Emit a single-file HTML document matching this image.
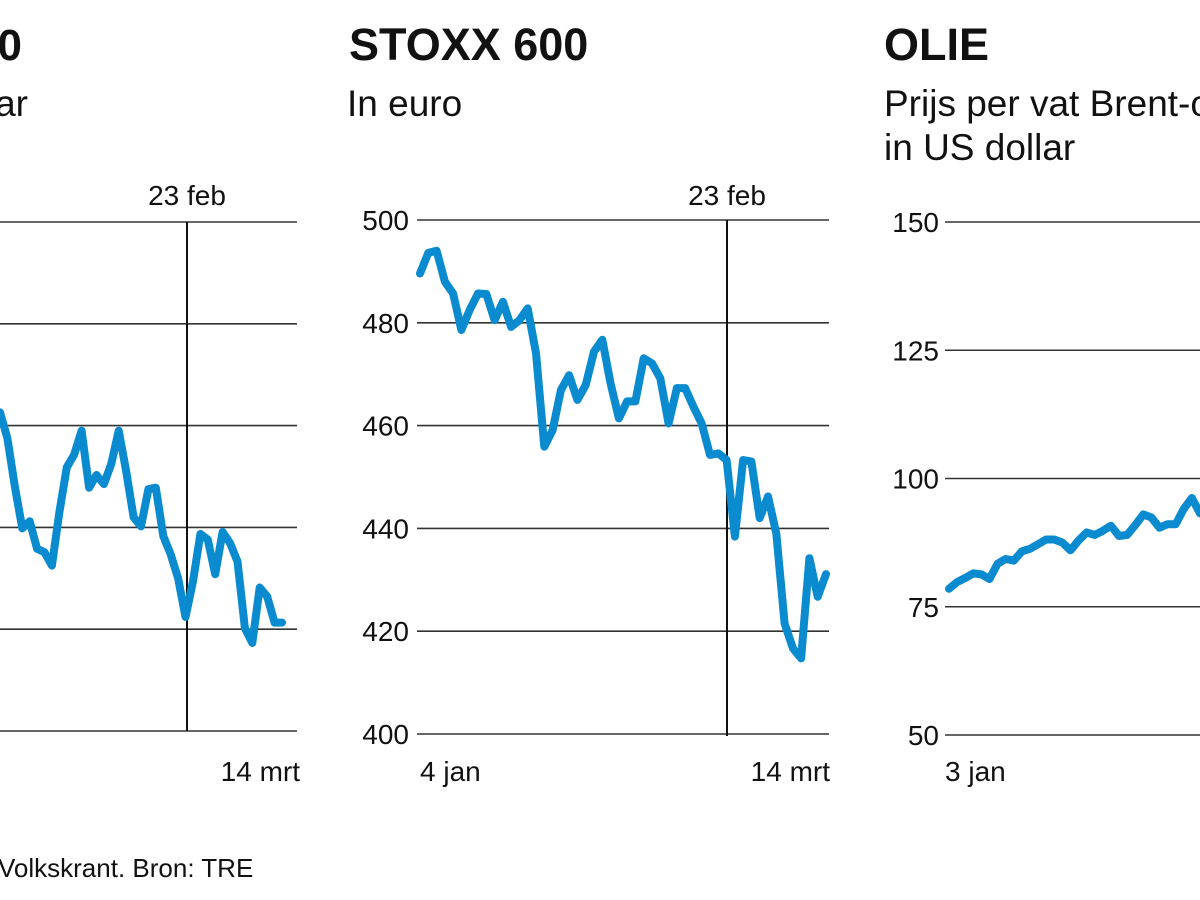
<!DOCTYPE html>
<html><head><meta charset="utf-8"><style>
html,body{margin:0;padding:0;background:#fff;width:1200px;height:900px;overflow:hidden}
svg{display:block;font-family:"Liberation Sans",sans-serif}
</style></head><body>
<svg id="chart" width="1200" height="900" viewBox="0 0 1200 900" xmlns="http://www.w3.org/2000/svg">
<text x="22" y="60" text-anchor="end" font-size="44" font-weight="bold" fill="#111">S&amp;P 500</text>
<text x="28" y="116" text-anchor="end" font-size="37" fill="#111">In US dollar</text>
<text x="349" y="60" font-size="45" font-weight="bold" fill="#111">STOXX 600</text>
<text x="347" y="116" font-size="37" fill="#111">In euro</text>
<text x="884" y="60" font-size="45" font-weight="bold" fill="#111">OLIE</text>
<text x="884" y="116" font-size="37" fill="#111">Prijs per vat Brent-olie</text>
<text x="884" y="160" font-size="37" fill="#111">in US dollar</text>
<text x="-2" y="877" font-size="26" fill="#111">Volkskrant. Bron: TRE</text>
<g id="plots"></g>
</svg>
<script>
// S&P 500 (visible part)
const spValues = [4626,4575,4481,4398,4412,4358,4351,4325,4430,4518,4543,4590,4478,4503,4485,4525,4590,4510,4420,4402,4475,4478,4383,4347,4300,4224,4293,4387,4376,4308,4391,4369,4333,4202,4173,4282,4264,4213,4213];
const spTicks = [5000,4800,4600,4400,4200,4000];
// STOXX 600
const stoxxValues = [489.6,493.6,494.0,488.0,485.7,478.6,482.5,485.7,485.6,480.5,484.1,479.2,480.5,482.8,474.1,455.9,459.1,466.9,469.8,465.0,467.9,474.4,476.7,468.2,461.4,464.7,464.7,473.1,472.1,469.2,460.4,467.3,467.3,463.7,460.4,454.3,454.6,453.3,438.4,453.3,453.0,442.0,446.2,439.0,421.5,416.7,414.7,434.2,426.7,431.1];
const stoxxTicks = [500,480,460,440,420,400];
// Oil (visible part)
const oilValues = [78.5,79.8,80.6,81.5,81.3,80.4,83.4,84.3,84.0,85.8,86.3,87.2,88.1,88.1,87.5,86.0,87.9,89.5,89.0,89.8,90.8,88.8,89.0,90.9,93.0,92.4,90.4,91.1,91.1,94.1,96.2,93.2];
const oilTicks = [150,125,100,75,50];

const NS="http://www.w3.org/2000/svg";
const plots=document.getElementById('plots');
function mk(tag,attrs){const e=document.createElementNS(NS,tag);for(const k in attrs)e.setAttribute(k,attrs[k]);plots.appendChild(e);return e;}

function drawPanel(cfg){
  const yMin=cfg.ticks[cfg.ticks.length-1], yMax=cfg.ticks[0];
  const y=v=>cfg.top+(yMax-v)/(yMax-yMin)*(cfg.bottom-cfg.top);
  const x=i=>cfg.x0+i*(cfg.x1-cfg.x0)/(cfg.values.length-1);
  cfg.ticks.forEach(t=>{
    const l=mk('line',{x1:cfg.gx0,x2:cfg.gx1,y1:y(t),y2:y(t),stroke:'#333','stroke-width':1.6});
    
    
    if(cfg.labelX!==null){
      const tx=mk('text',{x:cfg.labelX,y:y(t)+10,'text-anchor':'end','font-size':28,fill:'#111'});
      tx.textContent=t;
      
      
    }
  });
  if(cfg.vx!==undefined){
    const v=mk('line',{x1:cfg.vx,x2:cfg.vx,y1:cfg.top,y2:cfg.vBottom,stroke:'#111','stroke-width':2});
    
    
    const vt=mk('text',{x:cfg.vx,y:205,'text-anchor':'middle','font-size':28,fill:'#111'});
    vt.textContent='23 feb';
    
    
  }
  const d=cfg.values.map((v,i)=>(i?'L':'M')+x(i).toFixed(1)+' '+y(v).toFixed(1)).join(' ');
  const p=mk('path',{d:d,fill:'none',stroke:'#0a8bd0','stroke-width':8,'stroke-linejoin':'round','stroke-linecap':'round'});
  
  
  (cfg.xlabels||[]).forEach(xl=>{
    const t=mk('text',{x:xl[0],y:781,'text-anchor':xl[2],'font-size':28,fill:'#111'});
    t.textContent=xl[1];
    
    
  });
}
drawPanel({name:'sp500',values:spValues,ticks:spTicks,top:222,bottom:731,x0:0,x1:282,gx0:0,gx1:297,labelX:null,vx:187,vBottom:731,xlabels:[[300,'14 mrt','end']]});
drawPanel({name:'stoxx',values:stoxxValues,ticks:stoxxTicks,top:220,bottom:734,x0:420,x1:826,gx0:417,gx1:829,labelX:409,vx:727,vBottom:736,xlabels:[[420,'4 jan','start'],[830,'14 mrt','end']]});
drawPanel({name:'oil',values:oilValues,ticks:oilTicks,top:222,bottom:735,x0:949,x1:1200,gx0:945,gx1:1200,labelX:939,xlabels:[[945,'3 jan','start']]});
</script>
</body></html>
